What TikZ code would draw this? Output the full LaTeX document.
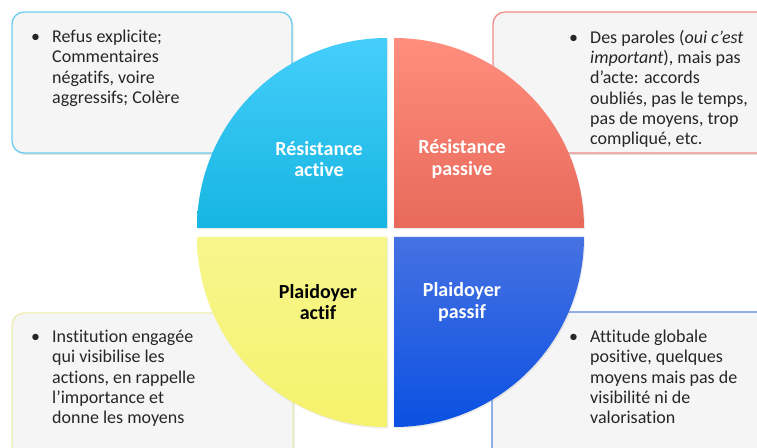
\documentclass[tikz,border=0pt]{standalone}
\usepackage{fontspec}
\setmainfont{Carlito}[Ligatures=NoCommon]
\usetikzlibrary{shadows}
\definecolor{boxfill}{HTML}{F5F5F5}
\definecolor{cyanbd}{HTML}{6CCDF0}
\definecolor{pinkbd}{HTML}{F08C84}
\definecolor{yelbd}{HTML}{EEEEB0}
\definecolor{bluebd}{HTML}{5A88DE}
\definecolor{cyantop}{HTML}{46CEFB}
\definecolor{cyanbot}{HTML}{16B5E1}
\definecolor{saltop}{HTML}{FF8E7E}
\definecolor{salbot}{HTML}{E8695A}
\definecolor{yeltop}{HTML}{F6F68E}
\definecolor{yelbot}{HTML}{F6F26C}
\definecolor{bluetop}{HTML}{4672E2}
\definecolor{bluebot}{HTML}{0B50E2}
\definecolor{txt}{HTML}{262626}
\begin{document}
\begin{tikzpicture}[x=1pt,y=1pt,
  infobox/.style={rounded corners=12pt, fill=boxfill, line width=1.3pt,
    drop shadow={shadow xshift=1.5pt,shadow yshift=-2pt,opacity=0.22}},
  infotext/.style={anchor=north west, align=left, inner sep=0pt,
    font=\fontsize{18}{20.3}\selectfont, text=txt},
  quad/.style={drop shadow={shadow xshift=1pt,shadow yshift=-1.5pt,opacity=0.15}},
  quadlabel/.style={align=center, inner sep=0pt, font=\bfseries\fontsize{20}{21.5}\selectfont}]
\clip (0,0) rectangle (757,447);
\fill[white] (0,0) rectangle (757,447);
% boxes
\path[infobox, draw=cyanbd] (12,435) rectangle (292,294);
\path[infobox, draw=pinkbd] (493,435) rectangle (775,294);
\path[infobox, draw=yelbd] (12,134) rectangle (293,-20);
\path[infobox, draw=bluebd] (492,135) rectangle (775,-20);
% quadrants
\shade[quad, top color=cyantop, bottom color=cyanbot]
  (387,219) -- ++(-190,0) arc[start angle=180, end angle=90, radius=190] -- cycle;
\shade[quad, top color=saltop, bottom color=salbot]
  (394,219) -- ++(0,190) arc[start angle=90, end angle=0, radius=190] -- cycle;
\shade[quad, top color=yeltop, bottom color=yelbot]
  (387,210) -- ++(-190,0) arc[start angle=180, end angle=270, radius=190] -- cycle;
\shade[quad, top color=bluetop, bottom color=bluebot]
  (394,210) -- ++(190,0) arc[start angle=0, end angle=-90, radius=190] -- cycle;
% quadrant labels
\node[quadlabel, text=white] (q1) at (319,288) {Résistance\\active};
\node[quadlabel, text=white] (q2) at (462,288) {Résistance\\passive};
\node[quadlabel, text=black] (q3) at (318,145) {Plaidoyer\\actif};
\node[quadlabel, text=white] (q4) at (462,145) {Plaidoyer\\passif};
% texts
\node[infotext] (t1) at (52,417) {\llap{•\hspace{12pt}}Refus explicite;\\Commentaires\\négatifs, voire\\aggressifs; Colère};
\node[infotext] (t2) at (590,417) {\llap{•\hspace{12pt}}Des paroles (\textit{oui c’est}\\\textit{important}), mais pas\\d’acte: accords\\oubliés, pas le temps,\\pas de moyens, trop\\compliqué, etc.};
\node[infotext] (t3) at (52,117) {\llap{•\hspace{12pt}}Institution engagée\\qui visibilise les\\actions, en rappelle\\l’importance et\\donne les moyens};
\node[infotext] (t4) at (590,117) {\llap{•\hspace{12pt}}Attitude globale\\positive, quelques\\moyens mais pas de\\visibilité ni de\\valorisation};
\end{tikzpicture}
\end{document}
